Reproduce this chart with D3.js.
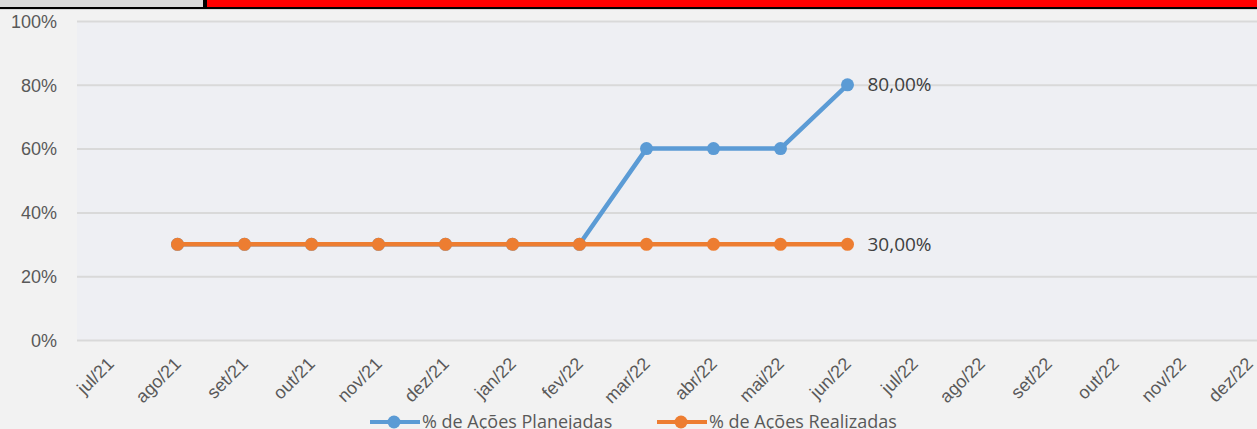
<!DOCTYPE html>
<html>
<head>
<meta charset="utf-8">
<script src="https://cdn.jsdelivr.net/npm/d3@7"></script>
<style>
  body { margin: 0; background: #f2f2f2; overflow: hidden; }
  svg { display: block; font-family: "Open Sans", "Noto Sans", sans-serif; }
</style>
</head>
<body>
<div id="chart"></div>
<script>
var months = ["jul/21","ago/21","set/21","out/21","nov/21","dez/21","jan/22","fev/22","mar/22","abr/22","mai/22","jun/22","jul/22","ago/22","set/22","out/22","nov/22","dez/22"];
var planejadas = [null, 0.30, 0.30, 0.30, 0.30, 0.30, 0.30, 0.30, 0.60, 0.60, 0.60, 0.80, null, null, null, null, null, null];
var realizadas = [null, 0.30, 0.30, 0.30, 0.30, 0.30, 0.30, 0.30, 0.30, 0.30, 0.30, 0.30, null, null, null, null, null, null];
var yTicks = [0, 0.2, 0.4, 0.6, 0.8, 1.0];
var seriesNames = ["% de Ações Planejadas", "% de Ações Realizadas"];
var seriesColors = ["#5b9bd5", "#ed7d31"];

var cfg = {
    width: 1257,
    height: 429,
    margin: {top: 21, left: 77, bottom: 89}
};

var svg = d3.select("#chart").append("svg")
    .attr("width", cfg.width)
    .attr("height", cfg.height);

// top strip (cut-off header of the sheet)
svg.append("rect").attr("x", 0).attr("y", 0).attr("width", 1257).attr("height", 9).attr("fill", "#000");
svg.append("rect").attr("x", 0).attr("y", 0).attr("width", 203).attr("height", 7).attr("fill", "#d9d9d9");
svg.append("rect").attr("x", 207).attr("y", 0).attr("width", 1050).attr("height", 7).attr("fill", "#ff0000");
svg.append("rect").attr("x", 0).attr("y", 9).attr("width", 1257).attr("height", 1).attr("fill", "#d6d6d6");

var plotBottom = cfg.height - cfg.margin.bottom;
// the plot runs past the right edge of the window, like the reference
var x = d3.scaleBand().domain(months).range([cfg.margin.left, cfg.margin.left + months.length * 67]);
var y = d3.scaleLinear().domain([0, 1]).range([plotBottom, cfg.margin.top]);

// plot area
svg.append("rect")
    .attr("x", cfg.margin.left).attr("y", cfg.margin.top)
    .attr("width", cfg.width - cfg.margin.left).attr("height", plotBottom - cfg.margin.top)
    .attr("fill", "#eeeff3");

var yAxis = d3.axisLeft(y).tickValues(yTicks).tickSize(0).tickPadding(3).tickFormat(d3.format(".0%"));
var gy = svg.append("g").attr("transform", "translate(60,0)").call(yAxis);
gy.select(".domain").remove();
gy.selectAll("text").attr("fill", "#595959").style("font-size", "18px").attr("dy", "0.35em");

svg.append("g").selectAll("line")
    .data(yTicks).enter().append("line")
    .attr("x1", cfg.margin.left).attr("x2", cfg.width)
    .attr("y1", function(d) { return y(d) + 0.5; })
    .attr("y2", function(d) { return y(d) + 0.5; })
    .attr("stroke", "#d9d9d9").attr("stroke-width", 2);

var xAxis = d3.axisBottom(x).tickSize(0);
var gx = svg.append("g").attr("transform", "translate(0," + plotBottom + ")").call(xAxis);
gx.select(".domain").remove();
gx.selectAll("text")
    .attr("fill", "#595959")
    .style("font-size", "18px")
    .style("text-anchor", "end")
    .attr("x", 0).attr("y", 0).attr("dy", 0)
    .attr("transform", "translate(4.5,25) rotate(-45)");

var series = [planejadas, realizadas];
var line = d3.line()
    .defined(function(d) { return d.v != null; })
    .x(function(d) { return x(d.m) + x.bandwidth() / 2; })
    .y(function(d) { return y(d.v); });

series.forEach(function(vals, si) {
    var pts = months.map(function(m, i) { return {m: m, v: vals[i]}; });
    svg.append("path").datum(pts)
        .attr("fill", "none")
        .attr("stroke", seriesColors[si])
        .attr("stroke-width", 4.5)
        .attr("stroke-linejoin", "round")
        .attr("d", line);
    svg.append("g").selectAll("circle")
        .data(pts.filter(function(d) { return d.v != null; }))
        .enter().append("circle")
        .attr("cx", function(d) { return x(d.m) + x.bandwidth() / 2; })
        .attr("cy", function(d) { return y(d.v); })
        .attr("r", 6.5)
        .attr("fill", seriesColors[si]);
    var last = pts.filter(function(d) { return d.v != null; }).pop();
    svg.append("text")
        .attr("x", x(last.m) + x.bandwidth() / 2 + 20)
        .attr("y", y(last.v))
        .attr("dy", "0.35em")
        .attr("fill", "#404040")
        .style("font-size", "19px")
        .text(d3.format(".2f")(last.v * 100).replace(".", ",") + "%");
});

// legend (cut by the bottom edge, as in the reference)
var legend = svg.selectAll(".legend")
    .data(seriesNames).enter().append("g")
    .attr("class", "legend")
    .attr("transform", function(d, i) { return "translate(" + [370, 657][i] + ",422)"; });
legend.append("line")
    .attr("x1", 0).attr("x2", 50)
    .attr("stroke", function(d, i) { return seriesColors[i]; })
    .attr("stroke-width", 4);
legend.append("circle").attr("cx", 24).attr("r", 6.5)
    .attr("fill", function(d, i) { return seriesColors[i]; });
legend.append("text")
    .attr("x", 52).attr("y", 6)
    .attr("fill", "#595959")
    .style("font-size", "18px")
    .text(function(d) { return d; });
</script>
</body>
</html>
